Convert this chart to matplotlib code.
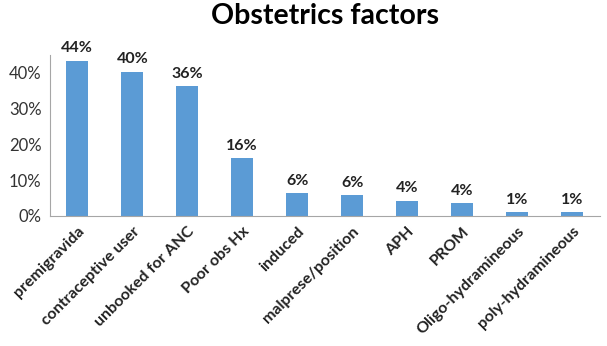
import matplotlib.pyplot as plt
from matplotlib.ticker import PercentFormatter

categories = ["premigravida", "contraceptive user", "unbooked for ANC", "Poor obs Hx",
              "induced", "malprese/position", "APH", "PROM",
              "Oligo-hydramineous", "poly-hydramineous"]
values = [43.4, 40.3, 36.2, 16.1, 6.3, 5.8, 4.3, 3.6, 1.1, 1.0]
labels = ["44%", "40%", "36%", "16%", "6%", "6%", "4%", "4%", "1%", "1%"]

plt.rcParams["font.family"] = ["Lato", "DejaVu Sans"]

fig = plt.figure(figsize=(6.07, 3.46), dpi=100)
ax = fig.add_axes([0.082, 0.376, 0.906, 0.465])

x = range(len(categories))
ax.bar(x, values, width=0.4, color="#5B9BD5")
for xi, v, lab in zip(x, values, labels):
    ax.text(xi, v + 1.5, lab, ha="center", va="bottom", fontsize=11.5,
            fontweight="bold", color="#222222", clip_on=False)

ax.set_xlim(-0.5, len(categories) - 0.5)
ax.set_ylim(0, 45)
ax.set_yticks([0, 10, 20, 30, 40])
ax.yaxis.set_major_formatter(PercentFormatter(decimals=0))
ax.set_xticks(list(x))
ax.set_xticklabels(categories, rotation=45, ha="right", rotation_mode="anchor",
                   fontsize=11.5, fontweight="bold", color="#222222")
ax.tick_params(axis="both", length=0, pad=6)
ax.tick_params(axis="y", labelsize=12, labelcolor="#333333")

for side in ["top", "right"]:
    ax.spines[side].set_visible(False)
for side in ["left", "bottom"]:
    ax.spines[side].set_color("#A6A6A6")

fig.suptitle("Obstetrics factors", x=0.535, y=0.99, fontsize=20.5, fontweight="bold")

fig.savefig("out.png", dpi=100)
